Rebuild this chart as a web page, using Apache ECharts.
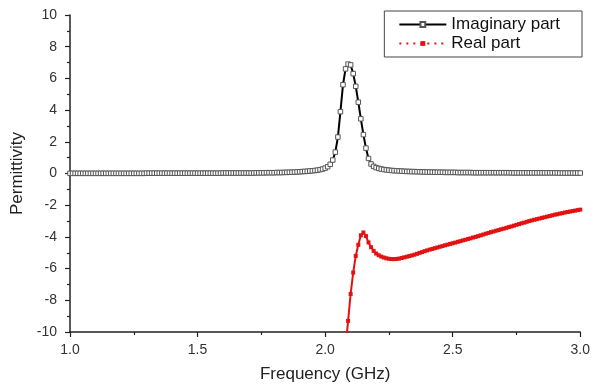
<!DOCTYPE html>
<html>
<head>
<meta charset="utf-8">
<script src="https://cdn.jsdelivr.net/npm/echarts@6/dist/echarts.min.js"></script>
<style>
  html, body { margin: 0; padding: 0; background: #fff; }
  #chart { width: 593px; height: 388px; }
</style>
</head>
<body>
<div id="chart"></div>
<script>
// frequency grid (GHz), 0.01 step
const freq = [
  1.00, 1.01, 1.02, 1.03, 1.04, 1.05, 1.06, 1.07, 1.08, 1.09,
  1.10, 1.11, 1.12, 1.13, 1.14, 1.15, 1.16, 1.17, 1.18, 1.19,
  1.20, 1.21, 1.22, 1.23, 1.24, 1.25, 1.26, 1.27, 1.28, 1.29,
  1.30, 1.31, 1.32, 1.33, 1.34, 1.35, 1.36, 1.37, 1.38, 1.39,
  1.40, 1.41, 1.42, 1.43, 1.44, 1.45, 1.46, 1.47, 1.48, 1.49,
  1.50, 1.51, 1.52, 1.53, 1.54, 1.55, 1.56, 1.57, 1.58, 1.59,
  1.60, 1.61, 1.62, 1.63, 1.64, 1.65, 1.66, 1.67, 1.68, 1.69,
  1.70, 1.71, 1.72, 1.73, 1.74, 1.75, 1.76, 1.77, 1.78, 1.79,
  1.80, 1.81, 1.82, 1.83, 1.84, 1.85, 1.86, 1.87, 1.88, 1.89,
  1.90, 1.91, 1.92, 1.93, 1.94, 1.95, 1.96, 1.97, 1.98, 1.99,
  2.00, 2.01, 2.02, 2.03, 2.04, 2.05, 2.06, 2.07, 2.08, 2.09,
  2.10, 2.11, 2.12, 2.13, 2.14, 2.15, 2.16, 2.17, 2.18, 2.19,
  2.20, 2.21, 2.22, 2.23, 2.24, 2.25, 2.26, 2.27, 2.28, 2.29,
  2.30, 2.31, 2.32, 2.33, 2.34, 2.35, 2.36, 2.37, 2.38, 2.39,
  2.40, 2.41, 2.42, 2.43, 2.44, 2.45, 2.46, 2.47, 2.48, 2.49,
  2.50, 2.51, 2.52, 2.53, 2.54, 2.55, 2.56, 2.57, 2.58, 2.59,
  2.60, 2.61, 2.62, 2.63, 2.64, 2.65, 2.66, 2.67, 2.68, 2.69,
  2.70, 2.71, 2.72, 2.73, 2.74, 2.75, 2.76, 2.77, 2.78, 2.79,
  2.80, 2.81, 2.82, 2.83, 2.84, 2.85, 2.86, 2.87, 2.88, 2.89,
  2.90, 2.91, 2.92, 2.93, 2.94, 2.95, 2.96, 2.97, 2.98, 2.99,
  3.00
]

// imaginary part, one value per freq entry
const imagPart = [
  0.01, 0.01, 0.01, 0.01, 0.01, 0.01, 0.01, 0.01, 0.01, 0.01,
  0.01, 0.01, 0.01, 0.01, 0.01, 0.01, 0.01, 0.01, 0.01, 0.01,
  0.01, 0.01, 0.01, 0.01, 0.01, 0.01, 0.01, 0.01, 0.01, 0.01,
  0.02, 0.02, 0.02, 0.02, 0.02, 0.02, 0.02, 0.02, 0.02, 0.02,
  0.02, 0.02, 0.02, 0.02, 0.02, 0.02, 0.02, 0.02, 0.02, 0.02,
  0.02, 0.02, 0.02, 0.02, 0.02, 0.02, 0.02, 0.02, 0.02, 0.02,
  0.03, 0.03, 0.03, 0.03, 0.03, 0.03, 0.03, 0.03, 0.03, 0.03,
  0.03, 0.03, 0.03, 0.04, 0.04, 0.04, 0.04, 0.05, 0.05, 0.05,
  0.05, 0.06, 0.06, 0.06, 0.07, 0.07, 0.08, 0.08, 0.09, 0.10,
  0.11, 0.12, 0.13, 0.14, 0.16, 0.17, 0.19, 0.21, 0.24, 0.28,
  0.34, 0.43, 0.58, 0.85, 1.35, 2.30, 3.90, 5.60, 6.60, 6.90,
  6.85, 6.30, 5.50, 4.50, 3.45, 2.45, 1.60, 0.95, 0.60, 0.45,
  0.37, 0.32, 0.28, 0.25, 0.23, 0.21, 0.19, 0.18, 0.17, 0.16,
  0.15, 0.14, 0.13, 0.13, 0.12, 0.12, 0.11, 0.11, 0.10, 0.10,
  0.09, 0.09, 0.09, 0.08, 0.08, 0.08, 0.08, 0.07, 0.07, 0.07,
  0.07, 0.07, 0.06, 0.06, 0.06, 0.06, 0.06, 0.06, 0.05, 0.05,
  0.05, 0.05, 0.05, 0.05, 0.05, 0.05, 0.05, 0.05, 0.05, 0.05,
  0.05, 0.05, 0.05, 0.04, 0.04, 0.04, 0.04, 0.04, 0.04, 0.04,
  0.04, 0.04, 0.04, 0.04, 0.04, 0.04, 0.04, 0.04, 0.04, 0.04,
  0.04, 0.04, 0.03, 0.03, 0.03, 0.03, 0.03, 0.03, 0.03, 0.03,
  0.03
]

// real part starts at 2.08 GHz (freq index 108)
const realStart = 108
const realPart = [
  -11.0, -9.3,
  -7.60, -6.25, -5.20, -4.50, -3.90, -3.72, -3.95, -4.35, -4.65, -4.88,
  -5.05, -5.16, -5.24, -5.30, -5.35, -5.38, -5.40, -5.40, -5.39, -5.37,
  -5.33, -5.29, -5.25, -5.21, -5.17, -5.12, -5.07, -5.01, -4.96, -4.90,
  -4.85, -4.80, -4.76, -4.71, -4.67, -4.62, -4.58, -4.53, -4.49, -4.44,
  -4.40, -4.36, -4.31, -4.27, -4.22, -4.18, -4.13, -4.09, -4.04, -4.00,
  -3.95, -3.90, -3.85, -3.80, -3.75, -3.70, -3.66, -3.61, -3.57, -3.52,
  -3.48, -3.43, -3.38, -3.34, -3.29, -3.24, -3.19, -3.14, -3.10, -3.05,
  -3.00, -2.96, -2.92, -2.88, -2.84, -2.80, -2.76, -2.72, -2.68, -2.64,
  -2.60, -2.57, -2.53, -2.50, -2.46, -2.43, -2.40, -2.37, -2.34, -2.31,
  -2.28
]

const font = 'Liberation Sans, Arial, sans-serif'
const axisColor = '#222'

const imagData = freq.map((f, i) => [f, imagPart[i]])
const realData = realPart.map((v, i) => [freq[realStart + i], v])

const chart = echarts.init(document.getElementById('chart'))

const option = {
  animation: false,
  backgroundColor: '#fff',
  grid: {
    left: 70,
    right: 11,
    top: 15,
    bottom: 55
  },
  legend: {
    orient: 'vertical',
    right: 11,
    top: 11,
    backgroundColor: '#fff',
    borderColor: '#444',
    borderWidth: 1,
    borderRadius: 0,
    padding: [5, 22, 5, 14],
    itemGap: 2,
    itemWidth: 47,
    itemHeight: 6,
    textStyle: { fontFamily: font, fontSize: 17, color: '#111' },
    data: [
      { name: 'Imaginary part' },
      { name: 'Real part', lineStyle: { type: [2, 5], width: 2 } }
    ]
  },
  xAxis: {
    type: 'value',
    min: 1,
    max: 3,
    interval: 0.5,
    name: 'Frequency (GHz)',
    nameLocation: 'middle',
    nameGap: 34,
    nameTextStyle: { fontFamily: font, fontSize: 17, color: '#222' },
    axisLine: { onZero: false, lineStyle: { color: axisColor, width: 1.5 } },
    axisTick: { length: 5, lineStyle: { color: axisColor, width: 1.2 } },
    minorTick: { show: true, splitNumber: 2, length: 3, lineStyle: { color: axisColor, width: 1.2 } },
    splitLine: { show: false },
    axisLabel: {
      fontFamily: font,
      fontSize: 14,
      color: '#333',
      margin: 11,
      formatter: v => v.toFixed(1)
    }
  },
  yAxis: {
    type: 'value',
    min: -10,
    max: 10,
    interval: 2,
    name: 'Permittivity',
    nameLocation: 'middle',
    nameGap: 43,
    nameTextStyle: { fontFamily: font, fontSize: 17, color: '#222' },
    axisLine: { show: true, onZero: false, lineStyle: { color: axisColor, width: 1.5 } },
    axisTick: { show: true, length: 5, lineStyle: { color: axisColor, width: 1.2 } },
    minorTick: { show: true, splitNumber: 2, length: 3, lineStyle: { color: axisColor, width: 1.2 } },
    splitLine: { show: false },
    axisLabel: { fontFamily: font, fontSize: 14, color: '#333', margin: 13 }
  },
  series: [
    {
      name: 'Imaginary part',
      type: 'line',
      data: imagData,
      symbol: 'rect',
      symbolSize: 4.5,
      showAllSymbol: true,
      clip: true,
      lineStyle: { color: '#000', width: 2 },
      itemStyle: { color: '#fff', borderColor: '#555', borderWidth: 1 },
      z: 3
    },
    {
      name: 'Real part',
      type: 'line',
      data: realData,
      symbol: 'rect',
      symbolSize: 4,
      showAllSymbol: true,
      clip: true,
      lineStyle: { color: '#e31212', width: 2 },
      itemStyle: { color: '#e31212', borderWidth: 0 },
      z: 2
    }
  ]
}

chart.setOption(option)
</script>
</body>
</html>
